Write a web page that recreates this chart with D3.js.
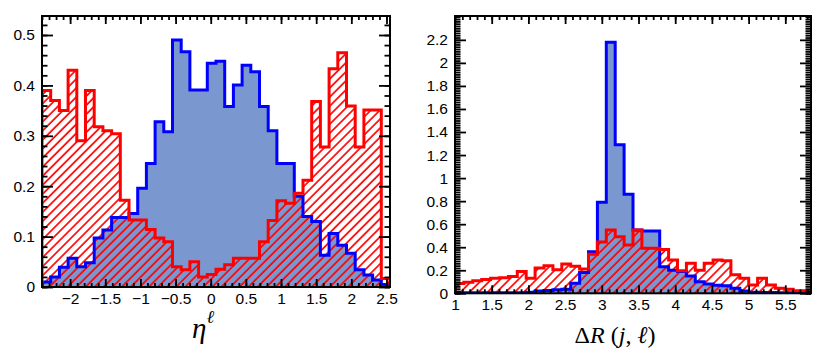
<!DOCTYPE html>
<html>
<head>
<meta charset="utf-8">
<script src="https://cdn.jsdelivr.net/npm/d3@7"></script>
<style>
  body { margin: 0; background: #fff; }
  svg { display: block; }
  .tick text { font-family: "Liberation Sans", Arial, sans-serif; font-size: 15.5px; fill: #000; }
  .tick line { stroke: #000; stroke-width: 1.8; }
</style>
</head>
<body>
<svg id="chart" width="831" height="353"></svg>
<script>
"use strict";

// eta distribution: 40 bins from -2.4 to 2.55
var etaRange = [-2.4, 2.55];
var etaBlue = [0.01, 0.02, 0.039, 0.057, 0.04, 0.048, 0.097, 0.113, 0.138, 0.138,
               0.146, 0.196, 0.245, 0.328, 0.308, 0.490, 0.467, 0.391, 0.391, 0.444,
               0.448, 0.358, 0.401, 0.440, 0.427, 0.358, 0.310, 0.245, 0.245, 0.18,
               0.140, 0.130, 0.063, 0.106, 0.083, 0.067, 0.034, 0.024, 0.014, 0.005];
var etaRed = [0.39, 0.37, 0.35, 0.43, 0.29, 0.39, 0.318, 0.31, 0.304, 0.172,
              0.133, 0.133, 0.114, 0.097, 0.09, 0.04, 0.034, 0.05, 0.02, 0.025,
              0.035, 0.044, 0.057, 0.057, 0.057, 0.09, 0.132, 0.171, 0.166, 0.186,
              0.212, 0.368, 0.278, 0.433, 0.465, 0.359, 0.278, 0.351, 0.351, 0.017];
var etaXTicks = [-2, -1.5, -1, -0.5, 0, 0.5, 1, 1.5, 2, 2.5];
var etaYTicks = [0, 0.1, 0.2, 0.3, 0.4, 0.5];

// delta R distribution: 40 bins from 1 to 5.85
var drRange = [1, 5.85];
var drBlue = [0.004, 0.004, 0.004, 0.004, 0.004, 0.004, 0.004, 0.005, 0.01, 0.02,
              0.025, 0.03, 0.035, 0.087, 0.18, 0.36, 0.79, 2.18, 1.29, 0.86,
              0.55, 0.54, 0.54, 0.23, 0.2, 0.19, 0.15, 0.10, 0.08, 0.07,
              0.065, 0.043, 0.02, 0.01, 0.008, 0.006, 0.005, 0.004, 0.003, 0.003];
var drRed = [0.085, 0.095, 0.11, 0.12, 0.13, 0.135, 0.145, 0.19, 0.13, 0.22,
             0.24, 0.205, 0.255, 0.235, 0.21, 0.34, 0.445, 0.55, 0.49, 0.42,
             0.55, 0.39, 0.39, 0.38, 0.29, 0.195, 0.26, 0.2, 0.26, 0.29,
             0.283, 0.16, 0.13, 0.072, 0.13, 0.072, 0.043, 0.035, 0.023, 0.023];
var drXTicks = [1, 1.5, 2, 2.5, 3, 3.5, 4, 4.5, 5, 5.5];
var drYTicks = [0, 0.2, 0.4, 0.6, 0.8, 1, 1.2, 1.4, 1.6, 1.8, 2, 2.2];

var svg = d3.select("#chart");

// red hatch pattern
svg.append("defs").append("pattern")
    .attr("id", "hatch")
    .attr("patternUnits", "userSpaceOnUse")
    .attr("width", 6.4)
    .attr("height", 10)
    .attr("patternTransform", "rotate(45)")
    .append("line")
    .attr("x1", 1).attr("y1", 0).attr("x2", 1).attr("y2", 10)
    .attr("stroke", "#ff0000")
    .attr("stroke-width", 1.7);

function fmt(v){
    return v < 0 ? "\u2212" + Math.abs(v) : String(v);
}

function stepPath(x, y, range, vals){
    var n = vals.length,
        w = (range[1] - range[0]) / n,
        p = "M" + x(range[0]) + "," + y(0);
    vals.forEach(function(v, i){
        p += "L" + x(range[0] + i * w) + "," + y(v) + "L" + x(range[0] + (i + 1) * w) + "," + y(v);
    });
    return p + "L" + x(range[1]) + "," + y(0);
}

function panel(opt){
    var x = d3.scaleLinear().domain(opt.xDomain).range([opt.left, opt.right]),
        y = d3.scaleLinear().domain(opt.yDomain).range([opt.bottom, opt.top]);

    var g = svg.append("g");
    var clipId = "clip" + opt.id;
    g.append("clipPath").attr("id", clipId)
        .append("rect")
        .attr("x", opt.left).attr("y", opt.top)
        .attr("width", opt.right - opt.left).attr("height", opt.bottom - opt.top);

    var plot = g.append("g").attr("clip-path", "url(#" + clipId + ")");
    var blueD = stepPath(x, y, opt.xDomain, opt.blue),
        redD = stepPath(x, y, opt.xDomain, opt.red);

    plot.append("path").attr("d", blueD).attr("fill", "#7b97d0").attr("stroke", "none");
    plot.append("path").attr("d", redD).attr("fill", "url(#hatch)").attr("stroke", "none");
    plot.append("path").attr("d", blueD).attr("fill", "none")
        .attr("stroke", "#0000ff").attr("stroke-width", 3).attr("stroke-linejoin", "miter");
    plot.append("path").attr("d", redD).attr("fill", "none")
        .attr("stroke", "#ff0000").attr("stroke-width", 3).attr("stroke-linejoin", "miter");

    var xMinor = d3.range(Math.ceil(opt.xDomain[0] * 10), Math.floor(opt.xDomain[1] * 10) + 1)
        .map(function(i){ return i / 10; });
    var yMinor = d3.range(0, Math.floor(opt.yDomain[1] * 50) + 1)
        .map(function(i){ return i / 50; });

    // bottom
    g.append("g").attr("transform", "translate(0," + opt.bottom + ")")
        .call(d3.axisBottom(x).tickValues(opt.xTicks).tickSize(-8).tickPadding(opt.xPad).tickFormat(fmt));
    g.append("g").attr("transform", "translate(0," + opt.bottom + ")")
        .call(d3.axisBottom(x).tickValues(xMinor).tickSize(-4).tickFormat(""));
    // top
    g.append("g").attr("transform", "translate(0," + opt.top + ")")
        .call(d3.axisTop(x).tickValues(opt.xTicks).tickSize(-8).tickFormat(""));
    g.append("g").attr("transform", "translate(0," + opt.top + ")")
        .call(d3.axisTop(x).tickValues(xMinor).tickSize(-4).tickFormat(""));
    // left
    g.append("g").attr("transform", "translate(" + opt.left + ",0)")
        .call(d3.axisLeft(y).tickValues(opt.yTicks).tickSize(-11).tickPadding(7).tickFormat(fmt));
    g.append("g").attr("transform", "translate(" + opt.left + ",0)")
        .call(d3.axisLeft(y).tickValues(yMinor).tickSize(-5.5).tickFormat(""));
    // right
    g.append("g").attr("transform", "translate(" + opt.right + ",0)")
        .call(d3.axisRight(y).tickValues(opt.yTicks).tickSize(-11).tickFormat(""));
    g.append("g").attr("transform", "translate(" + opt.right + ",0)")
        .call(d3.axisRight(y).tickValues(yMinor).tickSize(-5.5).tickFormat(""));

    g.selectAll(".domain").remove();

    g.append("rect")
        .attr("x", opt.left).attr("y", opt.top)
        .attr("width", opt.right - opt.left).attr("height", opt.bottom - opt.top)
        .attr("fill", "none").attr("stroke", "#000").attr("stroke-width", 2);

    return g;
}

var left = panel({
    id: "a", left: 42, right: 390, top: 16, bottom: 287, xPad: 6,
    xDomain: etaRange, yDomain: [0, 0.5377],
    blue: etaBlue, red: etaRed, xTicks: etaXTicks, yTicks: etaYTicks
});

var right = panel({
    id: "b", left: 455, right: 811, top: 16, bottom: 293.3, xPad: 5.5,
    xDomain: drRange, yDomain: [0, 2.407],
    blue: drBlue, red: drRed, xTicks: drXTicks, yTicks: drYTicks
});

// axis titles
var t1 = svg.append("text")
    .attr("x", 203).attr("y", 338)
    .attr("text-anchor", "middle")
    .attr("font-family", "'Liberation Serif', 'DejaVu Serif', serif");
t1.append("tspan").attr("font-style", "italic").attr("font-size", 29).text("\u03b7");
t1.append("tspan").attr("font-style", "italic").attr("font-size", 18).attr("dy", -15).text("\u2113");

var t2 = svg.append("text")
    .attr("x", 615).attr("y", 343)
    .attr("text-anchor", "middle")
    .attr("font-family", "'Liberation Serif', 'DejaVu Serif', serif")
    .attr("font-size", 24);
t2.append("tspan").text("\u0394");
t2.append("tspan").attr("font-style", "italic").text("R");
t2.append("tspan").text(" (");
t2.append("tspan").attr("font-style", "italic").text("j");
t2.append("tspan").text(", ");
t2.append("tspan").attr("font-style", "italic").text("\u2113");
t2.append("tspan").text(")");
</script>
</body>
</html>
